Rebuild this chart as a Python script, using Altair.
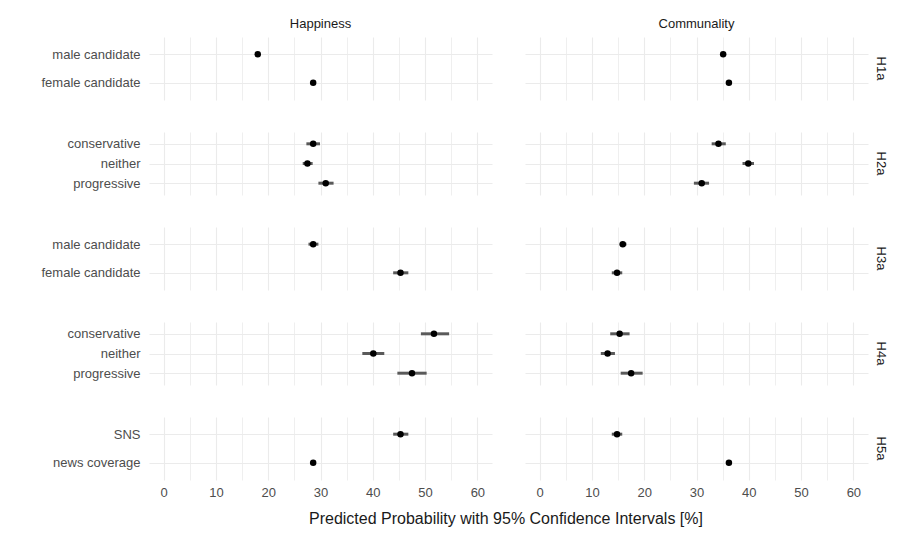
import altair as alt
import pandas as pd

hypotheses = ["H1a", "H1a", "H2a", "H2a", "H2a", "H3a", "H3a",
              "H4a", "H4a", "H4a", "H5a", "H5a"]
categories = ["male candidate", "female candidate",
              "conservative", "neither", "progressive",
              "male candidate", "female candidate",
              "conservative", "neither", "progressive",
              "SNS", "news coverage"]

hap_est = [18.0, 28.6, 28.6, 27.5, 31.0, 28.6, 45.3, 51.7, 40.1, 47.5, 45.3, 28.6]
hap_lo = [17.6, 28.2, 27.3, 26.6, 29.6, 27.7, 43.9, 49.2, 38.0, 44.7, 43.9, 28.2]
hap_hi = [18.4, 29.0, 29.9, 28.5, 32.5, 29.6, 46.8, 54.6, 42.2, 50.3, 46.8, 29.0]

com_est = [35.1, 36.2, 34.2, 39.9, 31.0, 15.9, 14.8, 15.3, 13.0, 17.5, 14.8, 36.2]
com_lo = [34.7, 35.8, 32.9, 38.8, 29.5, 15.3, 13.8, 13.5, 11.7, 15.5, 13.8, 35.8]
com_hi = [35.5, 36.6, 35.6, 41.0, 32.4, 16.6, 15.8, 17.2, 14.4, 19.7, 15.8, 36.6]

outcomes = ["Happiness", "Communality"]
hyp_order = ["H1a", "H2a", "H3a", "H4a", "H5a"]
x_ticks = list(range(0, 61, 5))

records = []
for o, est, lo, hi in [("Happiness", hap_est, hap_lo, hap_hi),
                       ("Communality", com_est, com_lo, com_hi)]:
    for h, c, e, l, u in zip(hypotheses, categories, est, lo, hi):
        records.append(dict(hyp=h, category=c, outcome=o,
                            estimate=e, lower=l, upper=u))
df = pd.DataFrame(records)

xs = alt.Scale(domain=[-2.8, 62.8], nice=False, zero=False)


def row_chart(h, first, last):
    sub = df[df.hyp == h]
    order = [c for hh, c in zip(hypotheses, categories) if hh == h]
    x_axis = alt.Axis(
        values=x_ticks, labels=last,
        labelExpr="datum.value % 10 == 0 ? datum.label : ''",
        labelFontSize=13, labelColor="#4d4d4d", labelPadding=6,
        ticks=False, domain=False, title=None, grid=True,
        gridColor="#ebebeb",
        gridWidth={"condition": {"test": "datum.value % 10 == 0", "value": 1.1},
                   "value": 0.8},
    )
    y_axis = alt.Axis(
        title=None, labelFontSize=13, labelColor="#4d4d4d", labelPadding=9,
        ticks=False, domain=False, grid=True, gridColor="#ebebeb",
        gridWidth=1.1, minExtent=108, maxExtent=108,
    )
    y = alt.Y("category:N", sort=order,
              scale=alt.Scale(type="point", padding=0.6), axis=y_axis)
    rule = alt.Chart().mark_rule(strokeWidth=3, color="#5a5a5a").encode(
        x=alt.X("lower:Q", scale=xs, axis=x_axis), x2="upper:Q", y=y)
    pts = alt.Chart().mark_circle(size=42, color="black", opacity=1).encode(
        x=alt.X("estimate:Q", scale=xs, axis=x_axis), y=y)
    layer = alt.layer(rule, pts, data=sub).properties(width=343, height=63)
    if first:
        col_header = alt.Header(title=None, labelFontSize=13,
                                labelColor="#1a1a1a", labelPadding=6)
    else:
        col_header = alt.Header(title=None, labels=False)
    row_header = alt.Header(title=None, labelOrient="right", labelAngle=90,
                            labelFontSize=13, labelColor="#1a1a1a",
                            labelPadding=6)
    return layer.facet(
        row=alt.Row("hyp:N", header=row_header),
        column=alt.Column("outcome:N", sort=outcomes, header=col_header),
        spacing=33,
    )


rows = [row_chart(h, i == 0, i == len(hyp_order) - 1)
        for i, h in enumerate(hyp_order)]

chart = alt.vconcat(*rows, spacing=32).resolve_scale(
    y="independent").resolve_axis(y="independent").properties(
    title=alt.TitleParams(
        "Predicted Probability with 95% Confidence Intervals [%]",
        orient="bottom", anchor="middle", fontSize=16, fontWeight="normal",
        color="#1a1a1a", offset=12, dx=42),
    padding={"left": 32, "top": 10, "right": 10, "bottom": 5},
).configure(font="Liberation Sans").configure_view(stroke=None)

chart.save("out.html", embed_options={"renderer": "svg", "actions": False})
